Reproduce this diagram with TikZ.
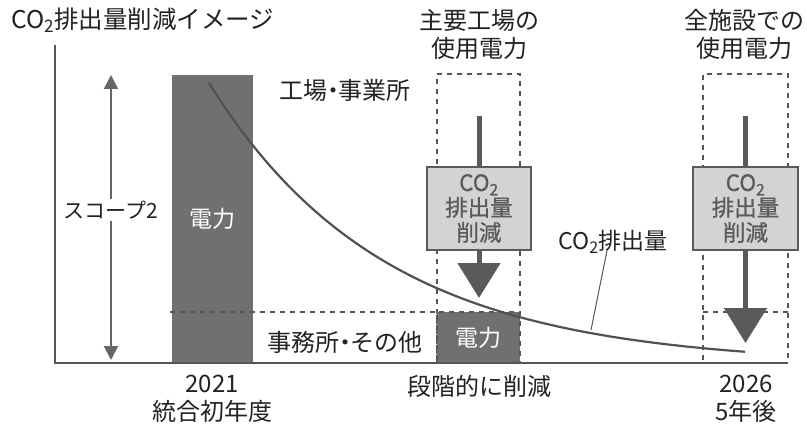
\documentclass[tikz,border=0pt]{standalone}
\usepackage{fontspec}
\setmainfont{Noto Sans CJK JP}
\usetikzlibrary{arrows.meta}
\definecolor{ink}{HTML}{222222}
\definecolor{barg}{HTML}{707070}
\definecolor{lineg}{HTML}{555555}
\definecolor{boxg}{HTML}{D3D3D3}
\definecolor{arrg}{HTML}{5A5A5A}
\newcommand\cotwo{CO\textsubscript{2}}
\newcommand\mdot{\kern-0.27em・\kern-0.27em}
\tikzset{
  lbl/.style={text=ink, inner sep=0pt, font=\fontsize{24}{28}\selectfont, align=center},
  axisline/.style={draw=lineg, line width=2pt},
  dashbox/.style={draw=lineg, line width=2pt, dash pattern=on 5pt off 5pt},
  darkbar/.style={fill=barg, inner sep=0pt, text=white, font=\fontsize{23}{24}\selectfont},
  redbox/.style={fill=boxg, draw=arrg, line width=2.5pt, text=arrg, inner sep=0pt,
    font=\addfontfeature{FakeBold=0.8}\fontsize{22.5}{25}\selectfont, align=center,
    minimum height=83pt},
  thickline/.style={draw=arrg, line width=5pt},
  thickarrow/.style={draw=arrg, line width=5pt, -{Triangle[width=42pt,length=35pt]}},
  scopearrow/.style={draw=lineg!90, line width=2pt, {Triangle[width=14pt,length=14pt]}-{Triangle[width=14pt,length=14pt]}},
  curveline/.style={draw=lineg!95!black, line width=2.2pt},
  leader/.style={draw=lineg, line width=1pt},
}
\begin{document}
\begin{tikzpicture}[x=1pt,y=-1pt]
\useasboundingbox (0,0) rectangle (807,428);
% title
\node[lbl, anchor=west, font=\fontsize{24.5}{28}\selectfont] (title) at (11,20) {\cotwo 排出量削減イメージ};
% axes
\coordinate (ytop) at (55,45);
\coordinate (orig) at (55,363);
\coordinate (xend) at (788,363);
% dark bar 2021
\node[darkbar, minimum width=81pt, minimum height=288pt] (bar) at (212.5,219) {電力};
% dashed boundary line
\coordinate (dl) at (170,312);
% tall dashed frames
\node[dashbox, minimum width=83pt, minimum height=289pt] (f1) at (478.5,218.5) {};
\node[dashbox, minimum width=85pt, minimum height=289pt] (f2) at (745.5,218.5) {};
\node[darkbar, dashbox, minimum width=83pt, minimum height=51pt] (small) at (478.5,337.5) {電力};
\draw[dashbox] (dl) -- (dl -| small.west);
\coordinate (r1) at (703,312);
\coordinate (r2) at (788,312);
\draw[dashbox] (r1) -- (r2);
\draw[axisline] (ytop) -- (orig) -- (xend);
% curve
\draw[curveline] plot[domain=209:745, samples=90, smooth] (\x, {365-282*exp(-0.0057*(\x-209))});
% scope arrow
\coordinate (sa) at (111,75);
\coordinate (sb) at (111,360);
\draw[scopearrow] (sa) -- (sb);
\node[lbl, fill=white, inner sep=2pt, font=\fontsize{21}{24}\selectfont] (scope) at (111,210) {スコープ2};
% labels
\node[lbl] (fac) at (345,90) {工場\mdot 事業所};
\node[lbl] (off) at (345,342) {事務所\mdot その他};
\node[lbl] (h1) at (479,34) {主要工場の\\使用電力};
\node[lbl] (h2) at (744,34) {全施設での\\使用電力};
% reduction boxes and arrows
\node[redbox, minimum width=104pt] (b1) at (479,208.5) {\cotwo\\排出量\\削減};
\node[redbox, minimum width=105pt] (b2) at (745.5,208.5) {\cotwo\\排出量\\削減};
\coordinate (s1) at (479,116);
\coordinate (t1) at (479,298);
\coordinate (s2) at (745.5,116);
\coordinate (t2) at (745.5,343);
\draw[thickline] (s1) -- (b1.north);
\draw[thickarrow] (b1.south) -- (t1);
\draw[thickline] (s2) -- (b2.north);
\draw[thickarrow] (b2.south) -- (t2);
% curve label
\node[lbl, font=\fontsize{23}{24}\selectfont] (cl) at (613,242) {\cotwo 排出量};
\coordinate (cp) at (591,330);
\draw[leader] ([xshift=-6pt,yshift=3pt]cl.south) -- (cp);
% bottom labels
\node[lbl] (y1) at (212,399) {2021\\統合初年度};
\node[lbl] (mid) at (479,386) {段階的に削減};
\node[lbl] (y2) at (746,399) {2026\\5年後};
\end{tikzpicture}
\end{document}
